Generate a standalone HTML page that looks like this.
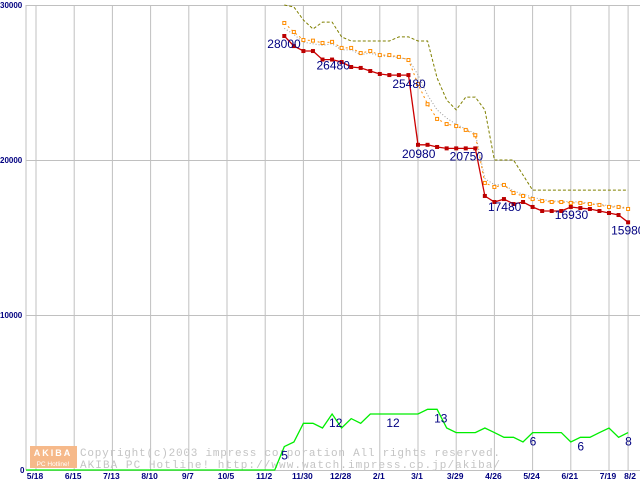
<!DOCTYPE html>
<html><head><meta charset="utf-8"><style>
html,body{margin:0;padding:0;background:#fff;}
svg{display:block;font-family:"Liberation Sans",sans-serif;}
</style></head><body>
<svg id="chart" width="640" height="480" viewBox="0 0 640 480" xmlns="http://www.w3.org/2000/svg">
<g id="grid"></g>
<g id="wm">
 <rect x="30" y="446" width="47" height="22" fill="#f6b98a"/>
 <text x="53" y="456" font-size="9" fill="#fff" text-anchor="middle" font-weight="bold" letter-spacing="2">AKIBA</text>
 <text x="53" y="466" font-size="6.5" fill="#fff" text-anchor="middle">PC Hotline!</text>
 <text x="80" y="456" font-size="11" fill="#c4c4c4" font-family="Liberation Mono,monospace" textLength="420">Copyright(c)2003 impress corporation All rights reserved.</text>
 <text x="80" y="468" font-size="11" fill="#c4c4c4" font-family="Liberation Mono,monospace" textLength="420">AKIBA PC Hotline!  http://www.watch.impress.co.jp/akiba/</text>
</g>
<g id="series"></g>
<g id="labels"></g>
</svg>
<script>
const xTickLabels=["5/18","6/15","7/13","8/10","9/7","10/5","11/2","11/30","12/28","2/1","3/1","3/29","4/26","5/24","6/21","7/19","8/2"];
const yTicks=[0,10000,20000,30000];
const startIdx=26;
const lowPrice=[28000,27350,27030,27030,26480,26480,26320,26000,25940,25740,25550,25480,25480,25480,20980,20980,20840,20750,20750,20750,20750,17680,17290,17480,17160,17290,16970,16710,16710,16710,16970,16900,16840,16710,16580,16450,15980];
const avgPrice=[28840,28260,27740,27700,27550,27620,27230,27230,26900,27030,26770,26770,26650,26450,24900,23600,22650,22320,22190,21940,21600,18520,18260,18390,17870,17680,17480,17350,17290,17290,17230,17230,17160,17100,16970,16970,16840];
const medPrice=[28500,28100,27600,27500,27400,27500,27100,27100,26800,26900,26700,26700,26600,26500,25500,24190,23230,22700,22300,22000,21700,18800,18400,18400,18000,17800,17600,17450,17350,17350,17300,17300,17200,17150,17050,17000,16900];
const highPrice=[30000,29870,29030,28450,28900,28900,27940,27680,27680,27680,27680,27680,27940,27940,27680,27680,25290,23870,23230,24060,24060,23230,20000,20000,20000,19030,18060,18060,18060,18060,18060,18060,18060,18060,18060,18060,18060];
const shopCount=[5,6,10,10,9,12,9,11,10,12,12,12,12,12,12,13,13,9,8,8,8,9,8,7,7,6,8,8,8,8,6,7,7,8,9,7,8];
const priceLabels=[[0,"28000",-17,12],[4,"26480",-6,10],[11,"25480",3,13],[14,"20980",-16,13],[17,"20750",3,12],[23,"17480",-16,12],[30,"16930",-16,12],[36,"15980",-17,12]];
const countLabels=[[0,"5"],[5,"12"],[11,"12"],[16,"13"],[26,"6"],[31,"6"],[36,"8"]];
const NS="http://www.w3.org/2000/svg";
function X(i){return 36+i*9.55;}
function Y(v){return 470-v*0.0155;}
function YC(c){return 470-c*4.67;}
function mk(tag,attrs,parent){const e=document.createElementNS(NS,tag);for(const k in attrs)e.setAttribute(k,attrs[k]);parent.appendChild(e);return e;}
const grid=document.getElementById('grid'),ser=document.getElementById('series'),lab=document.getElementById('labels');
// frame/grid
for(let k=0;k<16;k++){const l=mk('line',{x1:X(k*4),x2:X(k*4),y1:5,y2:470,stroke:'#c0c0c0','stroke-width':1},grid);

}
{const l=mk('line',{x1:X(62),x2:X(62),y1:5,y2:470,stroke:'#c0c0c0'},grid);

}
{const l=mk('line',{x1:26,x2:26,y1:5,y2:470,stroke:'#c0c0c0'},grid);

}
yTicks.forEach(v=>{const l=mk('line',{x1:26,x2:640,y1:Y(v)+0.5,y2:Y(v)+0.5,stroke:'#c0c0c0'},grid);


const t=mk('text',{x:v===0?20:0,y:Y(v)+3,'font-size':8,fill:'#000080','font-weight':'bold'},grid);t.textContent=v;

});
xTickLabels.forEach((s,k)=>{const xi=k<16?X(k*4)-1:X(62)-2;const t=mk('text',{x:k<16?xi:636,y:479,'font-size':8.5,fill:'#000080','text-anchor':k<16?'middle':'end','font-weight':'bold'},grid);t.textContent=s;

});
function pts(arr,f){return arr.map((v,i)=>X(startIdx+i).toFixed(1)+','+f(v).toFixed(1)).join(' ');}
// count line (green), with flat zero before
{const p='26,470 '+X(startIdx-1)+',470 '+pts(shopCount,YC);
const l=mk('polyline',{points:p,fill:'none',stroke:'#00ee00','stroke-width':1.3},ser);

}
{const l=mk('polyline',{points:pts(highPrice,Y),fill:'none',stroke:'#808000','stroke-width':1,'stroke-dasharray':'3,2'},ser);

}
{const l=mk('polyline',{points:pts(medPrice,Y),fill:'none',stroke:'#999','stroke-width':1,'stroke-dasharray':'1,2'},ser);

}
{const l=mk('polyline',{points:pts(avgPrice,Y),fill:'none',stroke:'#ff8c00','stroke-width':1,'stroke-dasharray':'2,3'},ser);

}
avgPrice.forEach((v,i)=>{const r=mk('rect',{x:X(startIdx+i)-1.5,y:Y(v)-1.5,width:3,height:3,fill:'#fff',stroke:'#ff8c00','stroke-width':1},ser);

});
{const l=mk('polyline',{points:pts(lowPrice,Y),fill:'none',stroke:'#cc0000','stroke-width':1.3},ser);

}
lowPrice.forEach((v,i)=>{const r=mk('rect',{x:X(startIdx+i)-2,y:Y(v)-2,width:4,height:4,fill:'#bb0000'},ser);

});
priceLabels.forEach(([i,s,dx,dy])=>{const t=mk('text',{x:X(startIdx+i)+dx,y:Y(lowPrice[i])+dy,'font-size':12,fill:'#000080'},lab);t.textContent=s;

});
countLabels.forEach(([i,s])=>{const t=mk('text',{x:X(startIdx+i)-3,y:YC(shopCount[i])+13,'font-size':12,fill:'#000080'},lab);t.textContent=s;

});
</script>
</body></html>
